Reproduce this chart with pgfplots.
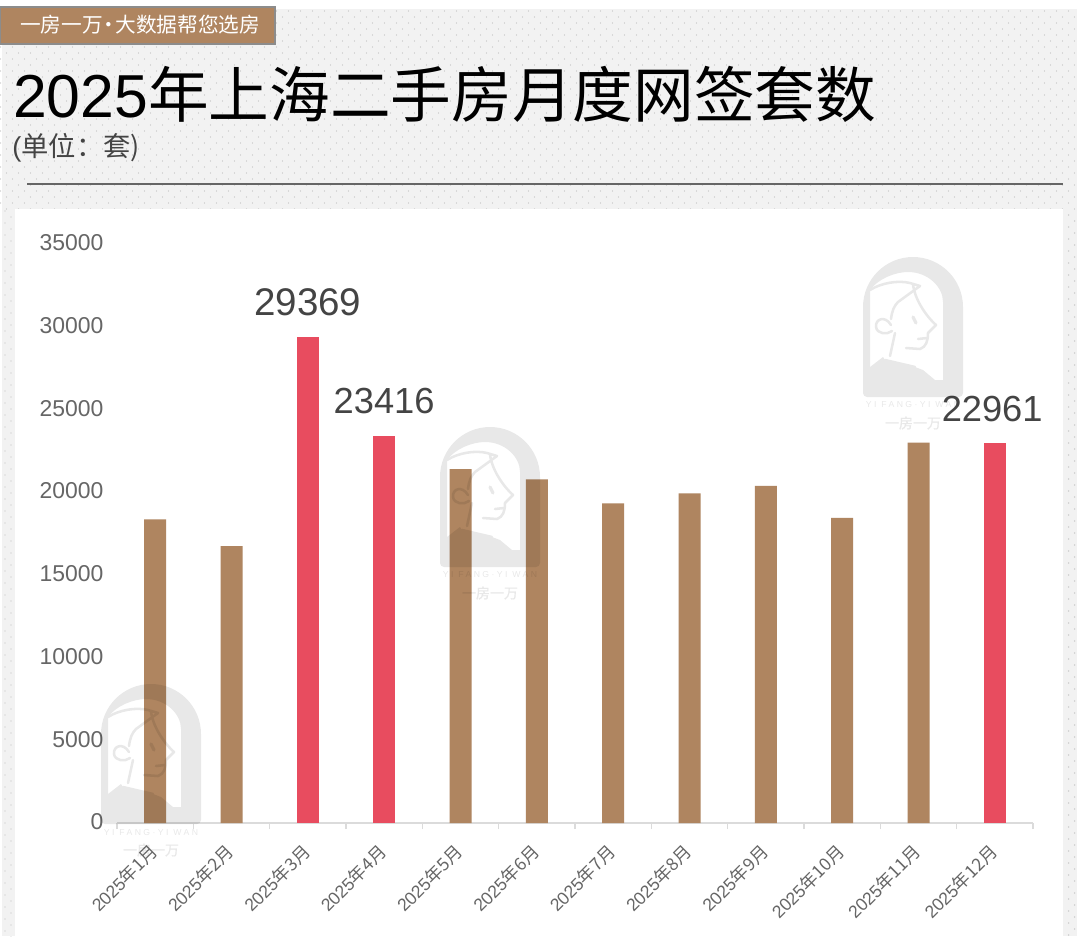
\documentclass[border=0pt]{standalone}
\usepackage{fontspec}
\usepackage{pgfplots}
\pgfplotsset{compat=1.18}
\setmainfont{Liberation Sans}
\newfontfamily\cjk{Noto Sans CJK SC}
\definecolor{tan}{HTML}{AF8560}
\definecolor{rosered}{HTML}{E84C5F}
\definecolor{ticktxt}{HTML}{666666}
\definecolor{lbltxt}{HTML}{444444}
\newcommand{\fs}[1]{\fontsize{#1}{#1}\selectfont}
\newcommand{\wm}[2]{%
\begin{scope}[shift={(#1,#2)},transparency group,opacity=0.09]
  \fill[black,even odd rule]
    (0,50) arc[start angle=180,end angle=360,radius=50] -- (100,136) arc[start angle=0,end angle=90,radius=4] -- (4,140) arc[start angle=90,end angle=180,radius=4] -- cycle
    (7,110) -- (7,33) .. controls (15,22) and (32,15) .. (45,15) .. controls (65,15) and (80,30) .. (80,45) -- (80,123) -- (7,123) -- cycle;
  \fill[black] (7,110) -- (20,100) -- (22,103) -- (52,110) -- (60,113) -- (72,123) -- (7,124) -- cycle;
  \draw[black,line width=1.9pt,line cap=round,line join=round]
    (7,33) .. controls (18,26) and (35,23) .. (47,26) -- (57,29) -- (35,45) .. controls (31,49) and (29,54) .. (28,62)
    (28,68) .. controls (22,58) and (12,62) .. (13,70) .. controls (14,77) and (24,78) .. (29,74)
    (50,28) .. controls (52,42) and (62,58) .. (73,68) -- (65,76) .. controls (65,84) and (63,90) .. (57,92) -- (43,91)
    (32,76) -- (27,99) (22,103) -- (52,110)
    (55,82) -- (64,81);
  \draw[black,line width=2.4pt,line cap=round] (50,60) -- (53,66);
  \node[black,inner sep=0pt] at (50,148) {\fs{6.5}\addfontfeatures{LetterSpace=28}YI FANG·YI WAN};
  \node[black,inner sep=0pt] at (50,166) {\cjk\fs{10.5}\addfontfeatures{FakeBold=1}一房一万};
\end{scope}}
\begin{document}
\begin{tikzpicture}[x=0.75pt,y=-0.75pt]
\useasboundingbox (0,0) rectangle (1077,936);
\fill[white] (0,0) rectangle (1077,936);
\fill[black!5] (2,9) rectangle (1077,936);
\foreach \j in {0,...,16}{
  \fill[black!25] \foreach \i in {0,...,89}{ (\i*12+0.5,11+\j*12) circle[radius=0.5pt] (\i*12+6.5,17+\j*12) circle[radius=0.5pt] };
}
\foreach \j in {17,...,77}{
  \fill[black!25] (1068.6,11+\j*12) circle[radius=0.5pt] (1074.6,17+\j*12) circle[radius=0.5pt]
    (11,13+\j*12) circle[radius=0.5pt] (5,7+\j*12) circle[radius=0.5pt];
}
\fill[white] (15,209) rectangle (1063,936);
\draw[color=black!60,line width=1pt] (27,184) -- (1063,184);
\draw[fill=tan,draw=black!45,line width=0.8pt] (0.4,7) rectangle (275,44);
\node[anchor=base west,inner sep=0pt,text=white] at (20,32) {\fs{15.5}\cjk{一房一万}\kern-3pt·\kern-3pt\cjk{大数据帮您选房}};
\node[anchor=base west,inner sep=0pt,text=black] at (13,117) {\fs{45.5}2025\cjk{年上海二手房月度网签套数}};
\node[anchor=base west,inner sep=0pt,text=lbltxt] at (12,156) {\fs{20.5}(\cjk{单位：套})};
\begin{axis}[
  at={(87.75pt,-617.25pt)},anchor=south west,
  scale only axis,width=687pt,height=434.25pt,
  xmin=-0.5,xmax=11.5,ymin=0,ymax=35000,
  ybar,bar width=16.5pt,bar shift=0pt,
  axis y line=none,
  axis x line*=bottom,
  axis line style={draw=black!14,line width=1.1pt,-},
  axis on top=false,
  scaled y ticks=false,
  xtick={0,...,11},
  xticklabels={2025\cjk{年}1\cjk{月},2025\cjk{年}2\cjk{月},2025\cjk{年}3\cjk{月},2025\cjk{年}4\cjk{月},2025\cjk{年}5\cjk{月},2025\cjk{年}6\cjk{月},2025\cjk{年}7\cjk{月},2025\cjk{年}8\cjk{月},2025\cjk{年}9\cjk{月},2025\cjk{年}10\cjk{月},2025\cjk{年}11\cjk{月},2025\cjk{年}12\cjk{月}},
  x tick label style={rotate=45,anchor=north east,font=\fs{13.2},text=ticktxt,inner sep=0pt,xshift=-11pt,yshift=-3.7pt},
  major x tick style={draw=none},
  minor xtick={-0.5,0.5,...,11.5},
  minor x tick style={draw=black!14,line width=0.9pt},
  minor tick length=4.5pt,
  tick align=outside,
  clip=false,
  extra description/.code={
    \foreach \v/\p in {0/0,5000/1,10000/2,15000/3,20000/4,25000/5,30000/6,35000/7}{
      \pgfmathsetmacro{\yy}{\p/7}
      \node[anchor=east,inner sep=0pt,text=ticktxt,font=\fs{17.2}] at (axis description cs:-0.0145,\yy+0.002) {\v};
    }
  },
]
\addplot[draw=none,fill=tan] coordinates {(0,18360) (1,16740) (4,21390) (5,20780) (6,19320) (7,19930) (8,20380) (9,18440) (10,22990)};
\addplot[draw=none,fill=rosered,
  nodes near coords,point meta=explicit symbolic,
  nodes near coords style={font=\fs{28.9},text=lbltxt,anchor=south,inner sep=0pt,yshift=15.5pt}]
  coordinates {(2,29369) [29369]};
\addplot[draw=none,fill=rosered,
  nodes near coords,point meta=explicit symbolic,
  nodes near coords style={font=\fs{27.2},text=lbltxt,anchor=south,inner sep=0pt,yshift=15.8pt}]
  coordinates {(3,23416) [23416]};
\addplot[draw=none,fill=rosered,
  nodes near coords,point meta=explicit symbolic,
  nodes near coords style={font=\fs{27.2},text=lbltxt,anchor=south,inner sep=0pt,yshift=15.8pt,xshift=-2pt}]
  coordinates {(11,22961) [22961]};
\end{axis}
\wm{863}{257}
\wm{440}{427}
\wm{101}{684}
\end{tikzpicture}
\end{document}
